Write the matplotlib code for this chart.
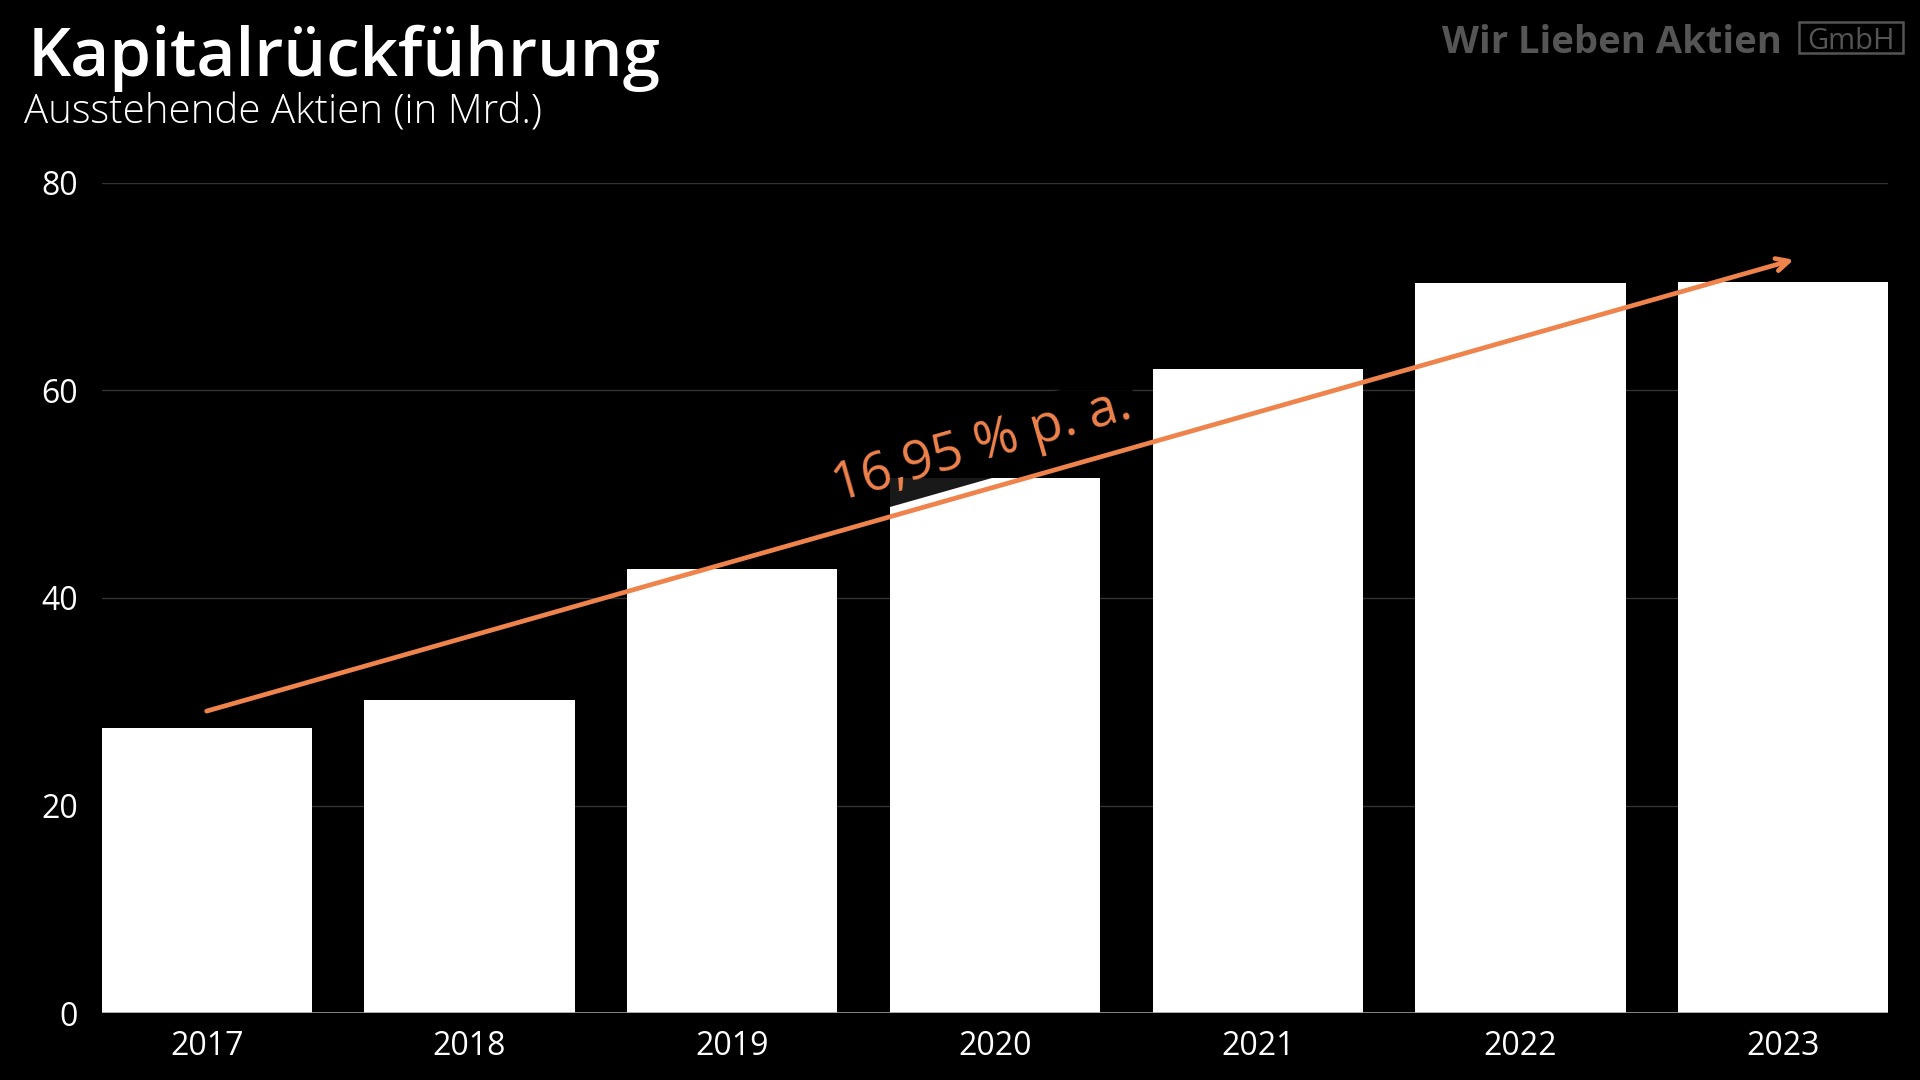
import math
import matplotlib.pyplot as plt
from matplotlib.patches import Rectangle

# data
years = ['2017', '2018', '2019', '2020', '2021', '2022', '2023']
shares = [27.5, 30.2, 42.8, 51.6, 62.1, 70.4, 70.5]
y_ticks = [0, 20, 40, 60, 80]

# trend arrow endpoints (bar index, value) and label
trend_start = (0.0, 29.1)
trend_end = (6.04, 72.6)
trend_label = '16,95 % p. a.'

orange = '#EF834C'
bg = 'black'

plt.rcParams['font.family'] = ['Open Sans', 'DejaVu Sans']

fig = plt.figure(figsize=(19.2, 10.8), dpi=100, facecolor=bg)
ax = fig.add_axes([0.0529, 0.062, 0.9306, 0.7686], facecolor=bg)

x = range(len(years))
ax.bar(x, shares, width=0.8, color='white', zorder=2)

ax.set_xlim(-0.4, len(years) - 0.6)
ax.set_ylim(0, 80)
ax.set_yticks(y_ticks)
ax.set_xticks(list(x))
ax.set_xticklabels(years)

for s in ax.spines.values():
    s.set_visible(False)
ax.tick_params(axis='both', length=0, colors='white', labelsize=23)
ax.tick_params(axis='y', pad=17)
ax.tick_params(axis='x', pad=12)
ax.grid(axis='y', color='#333333', linewidth=1, zorder=0)
ax.axhline(0, color='#999999', linewidth=1.2, zorder=3)

# trend arrow
ax.annotate('', xy=trend_end, xytext=trend_start,
            arrowprops=dict(arrowstyle='->,head_length=0.9,head_width=0.45',
                            color=orange, lw=3.4, shrinkA=0, shrinkB=0),
            zorder=5)

# rotation following the arrow in screen space
fig.canvas.draw()
p0 = ax.transData.transform(trend_start)
p1 = ax.transData.transform(trend_end)
angle = math.degrees(math.atan2(p1[1] - p0[1], p1[0] - p0[0]))

ax.text(2.95, 54.6, trend_label, color=orange, fontsize=38,
        rotation=angle, rotation_mode='anchor', ha='center', va='center',
        bbox=dict(boxstyle='square,pad=0.12', facecolor='black', edgecolor='none', alpha=0.9),
        zorder=4)

# titles
fig.text(0.0145, 0.9296, 'Kapitalrückführung', color='white', fontsize=48.5,
         fontweight='semibold', ha='left', va='baseline')
fig.text(0.0125, 0.8852, 'Ausstehende Aktien (in Mrd.)', color='white', fontsize=29,
         fontweight='light', ha='left', va='baseline')

# logo
fig.text(0.928, 0.951, 'Wir Lieben Aktien', color='#555555', fontsize=27.5,
         fontweight='bold', ha='right', va='baseline')
fig.patches.append(Rectangle((0.937, 0.9509), 0.0542, 0.0287, transform=fig.transFigure,
                             fill=False, edgecolor='#555555', linewidth=1.8))
fig.text(0.964, 0.9545, 'GmbH', color='#555555', fontsize=21,
         ha='center', va='baseline')

plt.savefig('out.png', dpi=100, facecolor=bg)
